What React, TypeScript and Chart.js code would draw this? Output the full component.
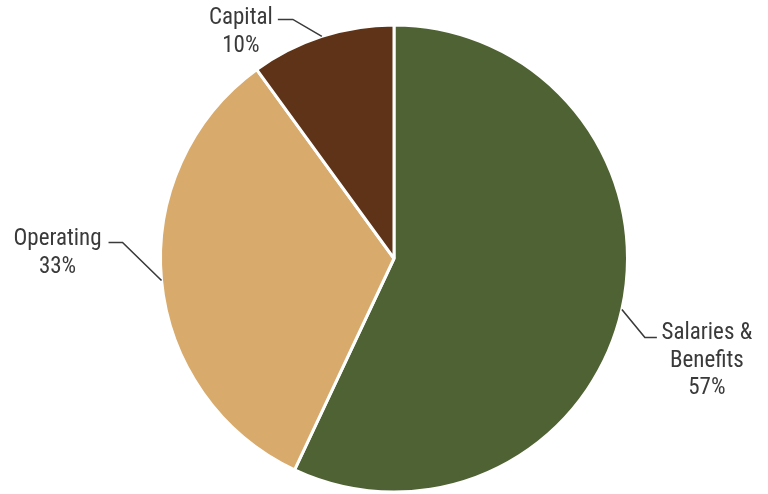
import React, { useEffect, useRef } from "react";
import { Chart, registerables } from "chart.js";

Chart.register(...registerables);

const categories = ["Salaries & Benefits", "Operating", "Capital"];
const labelLines = [["Salaries &", "Benefits", "57%"], ["Operating", "33%"], ["Capital", "10%"]];
const values = [57, 33, 10];
const colors = ["#4F6233", "#D8AA6C", "#5E3317"];

const leaderLayout = [
  { elbow: [23, 28], end: [35, 28], text: [85, 24] },
  { elbow: [-39, -38], end: [-53, -38], text: [-104, -41] },
  { elbow: [-29, -17], end: [-44, -17], text: [-81, -18] },
];

const leaderPlugin = {
  id: "leaderLabels",
  afterDatasetsDraw(chart: any) {
    const ctx = chart.ctx;
    const meta = chart.getDatasetMeta(0);
    ctx.save();
    meta.data.forEach((arc: any, i: number) => {
      const { x, y, startAngle, endAngle, outerRadius } = arc.getProps(["x", "y", "startAngle", "endAngle", "outerRadius"], true);
      const mid = (startAngle + endAngle) / 2;
      const ax = x + Math.cos(mid) * outerRadius;
      const ay = y + Math.sin(mid) * outerRadius;
      const L = leaderLayout[i];
      ctx.strokeStyle = "#3A3A3A";
      ctx.lineWidth = 1.6;
      ctx.beginPath();
      ctx.moveTo(ax, ay);
      ctx.lineTo(ax + L.elbow[0], ay + L.elbow[1]);
      ctx.lineTo(ax + L.end[0], ay + L.end[1]);
      ctx.stroke();
      ctx.fillStyle = "#3A3A3A";
      ctx.font = "23px 'Liberation Sans Narrow', 'Arial Narrow', 'Roboto Condensed', sans-serif";
      ctx.textAlign = "center";
      ctx.textBaseline = "middle";
      labelLines[i].forEach((t, k) => {
        ctx.fillText(t, ax + L.text[0], ay + L.text[1] + k * 27.5);
      });
    });
    ctx.restore();
  },
};

export default function App() {
  const ref = useRef<HTMLCanvasElement>(null);
  useEffect(() => {
    document.body.style.margin = "0";
    const chart = new Chart(ref.current!, {
      type: "pie",
      data: {
        labels: categories,
        datasets: [
          {
            data: values,
            backgroundColor: colors,
            borderColor: "#FFFFFF",
            borderWidth: 3,
          },
        ],
      },
      options: {
        responsive: false,
        animation: false,
        layout: { padding: { top: 23, bottom: 0, left: 159, right: 139 } },
        plugins: {
          legend: { display: false },
          tooltip: { enabled: false },
        },
      },
      plugins: [leaderPlugin],
    });
    return () => chart.destroy();
  }, []);
  return (
    <div style={{ width: 768, height: 494 }}>
      <canvas ref={ref} width={768} height={494} />
    </div>
  );
}
